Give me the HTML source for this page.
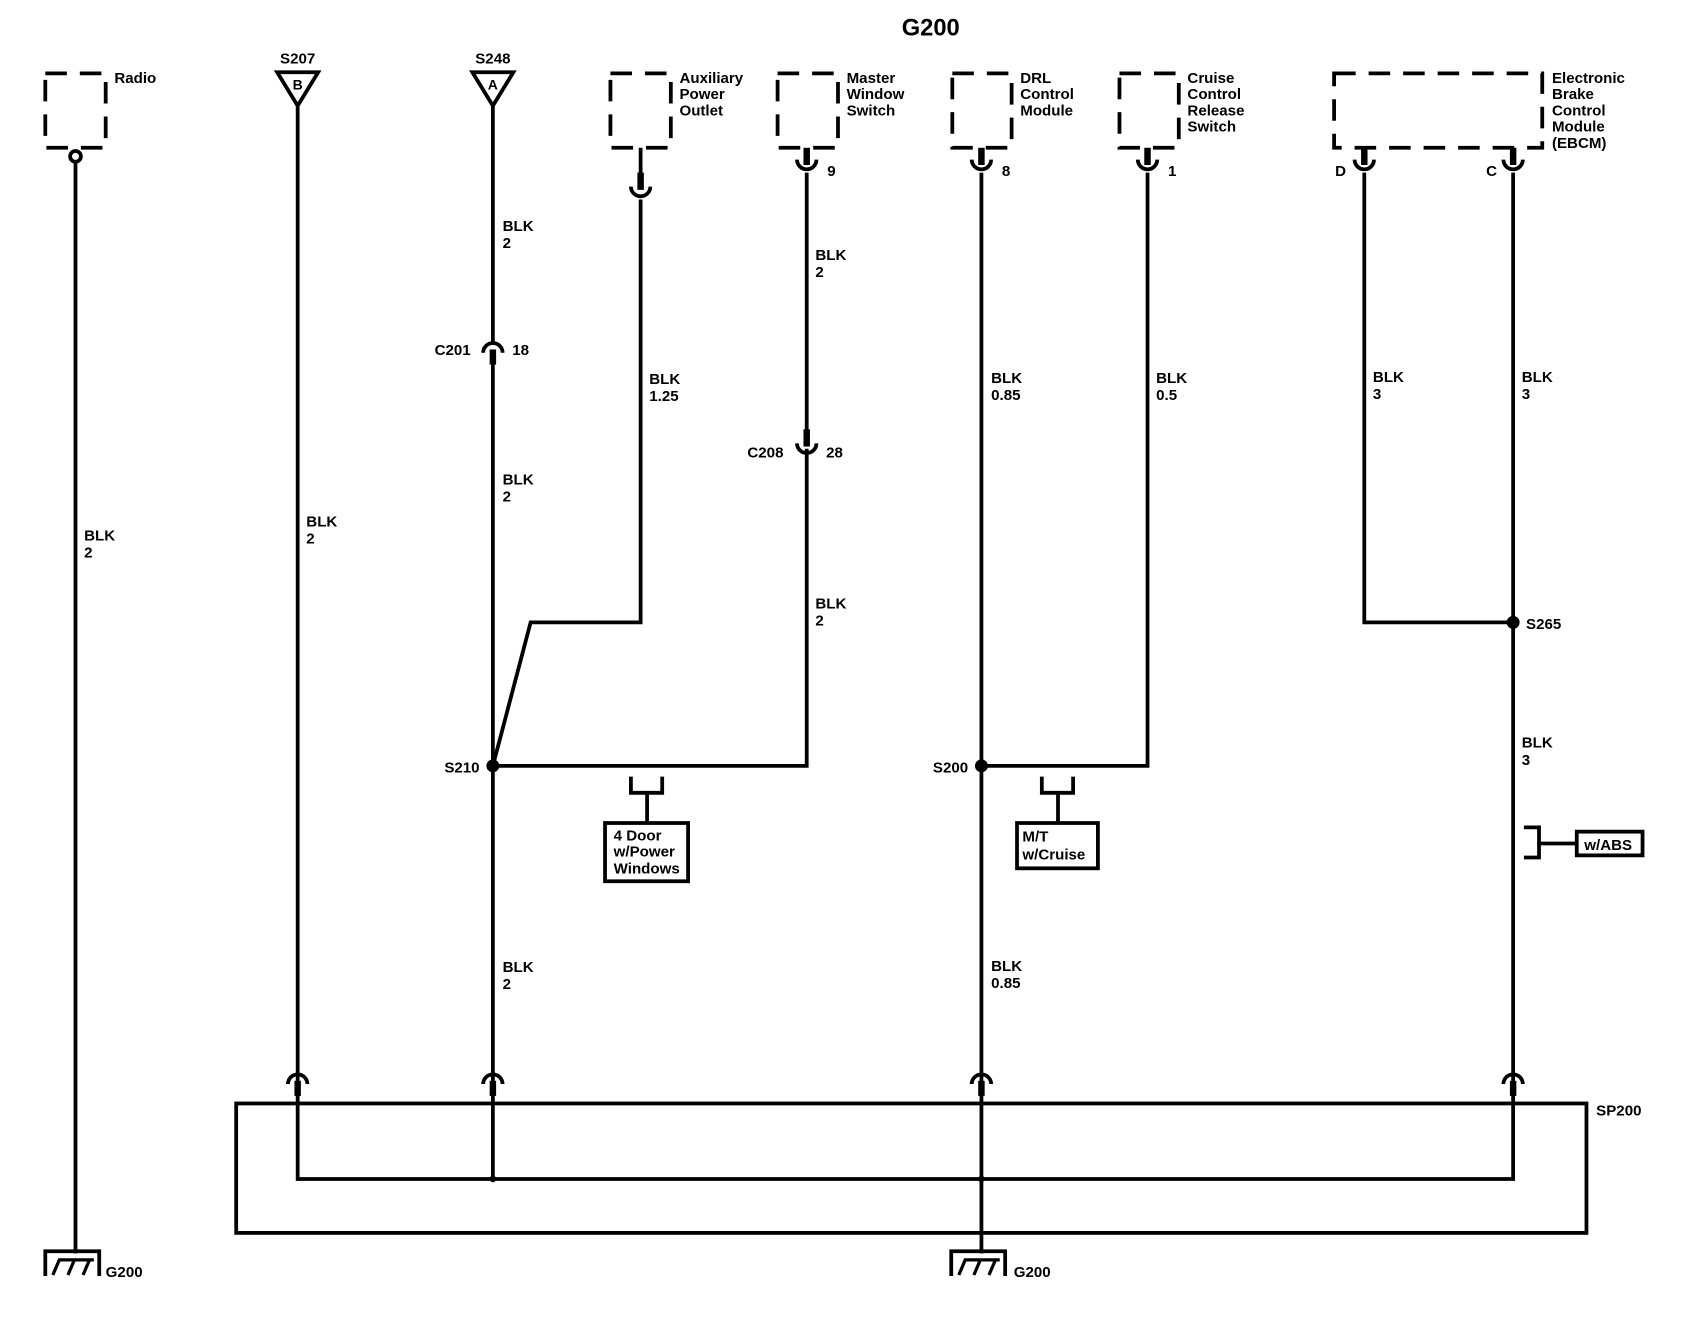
<!DOCTYPE html>
<html><head><style>html,body{margin:0;padding:0;background:#fff}svg{display:block}
text{font-family:"Liberation Sans",Arial,sans-serif;font-weight:bold;font-size:14px;fill:#000}</style></head>
<body>
<svg width="1690" height="1344" viewBox="0 0 1567 1246" preserveAspectRatio="none" xmlns="http://www.w3.org/2000/svg">
<defs>
<g id="pin">
<line x1="0" y1="0" x2="0" y2="16" stroke="#000" stroke-width="6"/>
<path d="M-9,11 A9,9 0 0 0 9,11" fill="none" stroke="#000" stroke-width="3.5"/>
</g>
<g id="arch">
<path d="M-9,9 A9,9 0 0 1 9,9" fill="none" stroke="#000" stroke-width="3.5"/>
<line x1="0" y1="6" x2="0" y2="20" stroke="#000" stroke-width="6"/>
</g>
<g id="gnd">
<path d="M-27,23 V0 H23 V23" fill="none" stroke="#000" stroke-width="3.5"/>
<path d="M-20,22 L-14,8 H18 M-6,22 L0,8 M8,22 L14,8" fill="none" stroke="#000" stroke-width="3"/>
</g>
</defs>
<g fill="none" stroke="#000" stroke-width="3.5" stroke-dasharray="20,12">
<rect x="42" y="68" width="56" height="69"/>
<rect x="566" y="68" width="56" height="69"/>
<rect x="721" y="68" width="56" height="69"/>
<rect x="883" y="68" width="55" height="69"/>
<rect x="1038" y="68" width="55" height="69"/>
<rect x="1237" y="68" width="193" height="69"/>
</g>
<text x="863" y="33" text-anchor="middle" style="font-size:22px">G200</text>
<text x="106" y="77">Radio</text>
<text x="630" y="77">Auxiliary</text><text x="630" y="92">Power</text><text x="630" y="107">Outlet</text>
<text x="785" y="77">Master</text><text x="785" y="92">Window</text><text x="785" y="107">Switch</text>
<text x="946" y="77">DRL</text><text x="946" y="92">Control</text><text x="946" y="107">Module</text>
<text x="1101" y="77">Cruise</text><text x="1101" y="92">Control</text><text x="1101" y="107">Release</text><text x="1101" y="122">Switch</text>
<text x="1439" y="77">Electronic</text><text x="1439" y="92">Brake</text><text x="1439" y="107">Control</text><text x="1439" y="122">Module</text><text x="1439" y="137">(EBCM)</text>

<g stroke="#000" stroke-width="3.5" fill="none">
<circle cx="70" cy="145" r="5"/>
<line x1="70" y1="150" x2="70" y2="1162"/>
<path d="M257,67 H295 L276,98 Z"/>
<line x1="276" y1="98" x2="276" y2="1004"/>
<path d="M438,67 H476 L457,98 Z"/>
<line x1="457" y1="98" x2="457" y2="318"/>
<line x1="457" y1="330" x2="457" y2="1004"/>
<line x1="594" y1="137" x2="594" y2="165"/>
<polyline points="594,185 594,577 492,577 457,710"/>
<line x1="748" y1="160" x2="748" y2="400"/>
<polyline points="748,416 748,710 457,710"/>
<line x1="910" y1="160" x2="910" y2="1162"/>
<polyline points="1064,160 1064,710 910,710"/>
<polyline points="1265,160 1265,577 1403,577"/>
<line x1="1403" y1="160" x2="1403" y2="1004"/>
<path d="M585,720 V735 H614 V720 M600,735 V763"/>
<rect x="561" y="763" width="77" height="54"/>
<path d="M966,720 V735 H995 V720 M981,735 V763"/>
<rect x="943" y="763" width="75" height="42"/>
<path d="M1413,767 H1427 V795 H1413 M1427,782 H1462"/>
<rect x="1462" y="771" width="61" height="22"/>
<rect x="219" y="1023" width="1252" height="120"/>
<polyline points="276,1010 276,1093 1403,1093 1403,1010"/>
<line x1="457" y1="1010" x2="457" y2="1093"/>
</g>
<use href="#pin" x="748" y="137"/>
<use href="#pin" x="910" y="137"/>
<use href="#pin" x="1064" y="137"/>
<use href="#pin" x="1265" y="137"/>
<use href="#pin" x="1403" y="137"/>
<line x1="594" y1="160" x2="594" y2="176" stroke="#000" stroke-width="6"/>
<path d="M585,173 A9,9 0 0 0 603,173" fill="none" stroke="#000" stroke-width="3.5"/>
<use href="#arch" x="457" y="318"/>
<line x1="748" y1="398" x2="748" y2="414" stroke="#000" stroke-width="6"/>
<path d="M739,411 A9,9 0 0 0 757,411" fill="none" stroke="#000" stroke-width="3.5"/>
<use href="#arch" x="276" y="996"/>
<use href="#arch" x="457" y="996"/>
<use href="#arch" x="910" y="996"/>
<use href="#arch" x="1403" y="996"/>
<circle cx="457" cy="710" r="6"/>
<circle cx="910" cy="710" r="6"/>
<circle cx="1403" cy="577" r="6"/>
<circle cx="457" cy="1093" r="3"/>
<circle cx="910" cy="1093" r="3"/>
<use href="#gnd" x="69" y="1160"/>
<use href="#gnd" x="909" y="1160"/>

<text x="276" y="59" text-anchor="middle">S207</text>
<text x="276" y="83" text-anchor="middle" style="font-size:13px">B</text>
<text x="457" y="59" text-anchor="middle">S248</text>
<text x="457" y="83" text-anchor="middle" style="font-size:13px">A</text>
<text x="767" y="163">9</text><text x="929" y="163">8</text><text x="1083" y="163">1</text>
<text x="1238" y="163">D</text><text x="1378" y="163">C</text>
<text x="403" y="329">C201</text><text x="475" y="329">18</text>
<text x="693" y="424">C208</text><text x="766" y="424">28</text>
<text x="78" y="501">BLK</text><text x="78" y="517">2</text>
<text x="284" y="488">BLK</text><text x="284" y="504">2</text>
<text x="466" y="214">BLK</text><text x="466" y="230">2</text>
<text x="466" y="449">BLK</text><text x="466" y="465">2</text>
<text x="466" y="901">BLK</text><text x="466" y="917">2</text>
<text x="602" y="356">BLK</text><text x="602" y="372">1.25</text>
<text x="756" y="241">BLK</text><text x="756" y="257">2</text>
<text x="756" y="564">BLK</text><text x="756" y="580">2</text>
<text x="919" y="355">BLK</text><text x="919" y="371">0.85</text>
<text x="919" y="900">BLK</text><text x="919" y="916">0.85</text>
<text x="1072" y="355">BLK</text><text x="1072" y="371">0.5</text>
<text x="1273" y="354">BLK</text><text x="1273" y="370">3</text>
<text x="1411" y="354">BLK</text><text x="1411" y="370">3</text>
<text x="1411" y="693">BLK</text><text x="1411" y="709">3</text>
<text x="412" y="716">S210</text><text x="865" y="716">S200</text><text x="1415" y="583">S265</text>
<text x="569" y="779">4 Door</text><text x="569" y="794">w/Power</text><text x="569" y="810">Windows</text>
<text x="948" y="780">M/T</text><text x="948" y="797">w/Cruise</text>
<text x="1469" y="788">w/ABS</text>
<text x="1480" y="1034">SP200</text>
<text x="98" y="1184">G200</text><text x="940" y="1184">G200</text>
</svg>
</body></html>
